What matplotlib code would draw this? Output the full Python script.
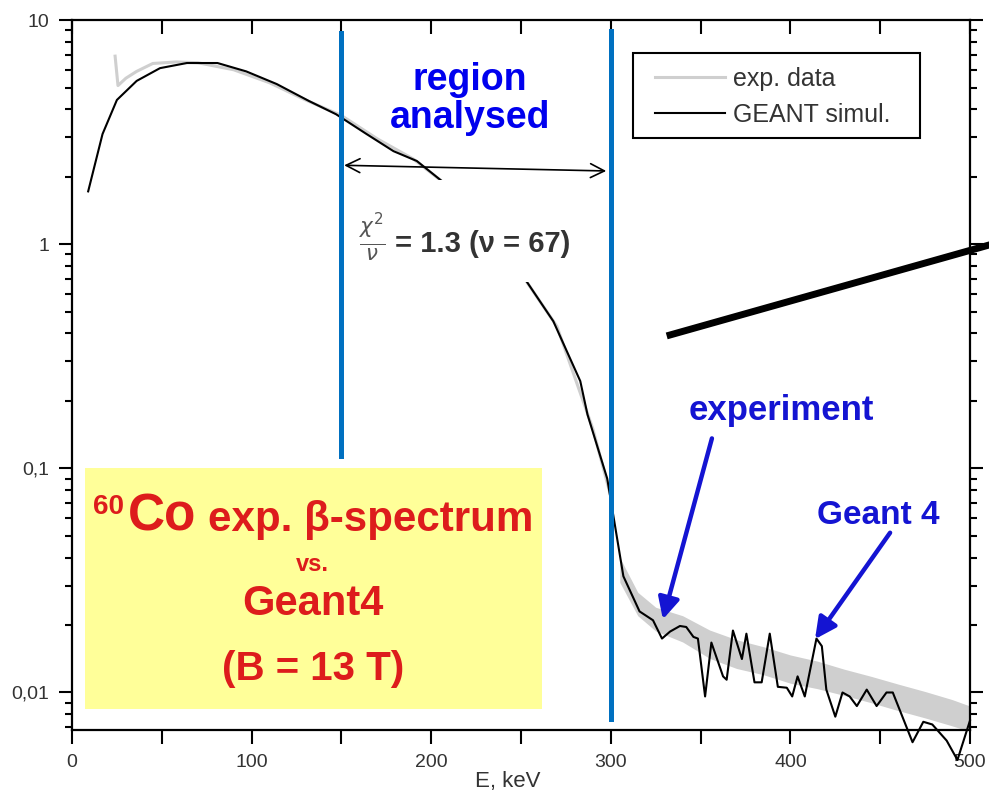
import matplotlib
matplotlib.use('Agg')
import matplotlib.pyplot as plt
from matplotlib.patches import Rectangle
from matplotlib.lines import Line2D
from matplotlib.ticker import FixedLocator, FixedFormatter, MultipleLocator, NullFormatter

plt.rcParams['font.family'] = ['Liberation Sans', 'DejaVu Sans']

# GEANT simulation (black line), E in keV
sim_e = [9, 17, 25, 36, 49, 64, 81, 97, 114, 132, 147, 164, 179, 192, 206, 220, 235,
         253, 268, 283, 287, 298, 307, 316, 323.5, 328.5, 333, 338.5, 342, 346, 348.5,
         352.5, 356, 362.5, 364.5, 368, 373, 375.5, 380, 384, 388.5, 393, 398, 401,
         404, 408, 414.5, 417.5, 420, 425, 429, 433, 437, 442.5, 448, 453.5, 457, 468,
         474, 479, 487, 493, 500]
sim_y = [1.72, 3.1, 4.4, 5.35, 6.1, 6.43, 6.43, 5.9, 5.18, 4.35, 3.8, 3.1, 2.6, 2.35,
         1.91, 1.5, 1.1, 0.684, 0.453, 0.245, 0.174, 0.090, 0.033, 0.023, 0.021, 0.0174,
         0.0187, 0.0198, 0.0196, 0.0177, 0.0174, 0.0096, 0.0167, 0.0118, 0.0114, 0.0189,
         0.0141, 0.0183, 0.0111, 0.0111, 0.0183, 0.0106, 0.0105, 0.0096, 0.0118, 0.0096,
         0.0174, 0.0161, 0.0103, 0.0078, 0.0100, 0.0096, 0.0087, 0.0103, 0.0087, 0.0100,
         0.0100, 0.0060, 0.0074, 0.0072, 0.0061, 0.0050, 0.0075]

# experimental data (grey), low-energy part
exp_e = [24, 25.6, 30, 36, 45, 58, 70, 90, 110, 130, 150, 170, 190, 210, 230, 250,
         270, 290, 300]
exp_y = [6.9, 5.1, 5.5, 5.9, 6.4, 6.5, 6.45, 6.0, 5.25, 4.4, 3.75, 2.95, 2.4, 1.8,
         1.25, 0.74, 0.43, 0.15, 0.075]

# experimental data tail: scatter band (lower / upper edge)
band_e = [305, 315, 325, 340, 355, 370, 385, 400, 415, 430, 445, 460, 475, 490, 500]
band_lo = [0.031, 0.022, 0.0188, 0.0168, 0.0142, 0.0128, 0.0120, 0.0110, 0.0104,
           0.0097, 0.0090, 0.0083, 0.0077, 0.0071, 0.0067]
band_hi = [0.040, 0.028, 0.0240, 0.0220, 0.0190, 0.0172, 0.0160, 0.0147, 0.0138,
           0.0127, 0.0118, 0.0109, 0.0101, 0.0093, 0.0087]

ytick_vals = [0.01, 0.1, 1, 10]
ytick_labels = ['0,01', '0,1', '1', '10']

fig = plt.figure(figsize=(9.89, 8.01), dpi=100)
ax = fig.add_axes([0.0728, 0.0886, 0.908, 0.8864])

grey = '#cfcfcf'
ax.fill_between(band_e, band_lo, band_hi, color=grey, lw=0)
ax.plot(exp_e, exp_y, color=grey, lw=2.2, label='exp. data')
ax.plot(sim_e, sim_y, color='black', lw=1.5, label='GEANT simul.', clip_on=False)

ax.set_yscale('log')
ax.set_xlim(0, 500)
ax.set_ylim(0.0068, 10)

ax.yaxis.set_major_locator(FixedLocator(ytick_vals))
ax.yaxis.set_major_formatter(FixedFormatter(ytick_labels))
ax.yaxis.set_minor_formatter(NullFormatter())
ax.xaxis.set_major_locator(MultipleLocator(100))
ax.xaxis.set_minor_locator(MultipleLocator(50))

for s in ax.spines.values():
    s.set_linewidth(1.6)
ax.tick_params(which='both', top=True, right=True, width=1.5, labelsize=14,
               labelcolor='#333333')
ax.tick_params(axis='y', which='major', direction='out', length=9.5, pad=7)
ax.tick_params(axis='y', which='minor', direction='out', length=5)
ax.tick_params(axis='x', which='both', direction='out', length=10, pad=7)
# top and right ticks point inward
for t in ax.xaxis.get_major_ticks() + ax.xaxis.get_minor_ticks():
    t.tick2line.set_marker(3)
for t in ax.yaxis.get_major_ticks() + ax.yaxis.get_minor_ticks():
    t.tick2line.set_marker(1)
ax.set_xlabel('E, keV', fontsize=16, color='#333333')
ax.xaxis.set_label_coords(0.485, -0.058)

# legend: entries without frame, box drawn separately
leg = ax.legend(loc='upper left', bbox_to_anchor=(0.649, 0.934), fontsize=18,
                frameon=False, handlelength=2.8, borderpad=0, labelspacing=0.48,
                handletextpad=0.32, borderaxespad=0)
for t in leg.get_texts():
    t.set_color('#333333')
ax.add_patch(Rectangle((0.6247, 0.8345), 0.3193, 0.119, transform=ax.transAxes,
                       facecolor='none', edgecolor='black', lw=1.5, zorder=6))

# region analysed lines
blue_line = '#0070c0'
ax.plot([150, 150], [0.113, 8.75], color=blue_line, lw=3.6, zorder=5)
ax.plot([300, 300], [0.0076, 8.9], color=blue_line, lw=3.6, zorder=5)
ax.annotate('', xy=(150, 2.25), xytext=(299, 2.12),
            arrowprops=dict(arrowstyle='<->', color='black', lw=1.2,
                            mutation_scale=25))
ax.text(221.5, 4.45, 'region\nanalysed', color='#0000ee', fontsize=27,
        fontweight='bold', ha='center', va='center', linespacing=1.05)

# white patch with chi2
ax.add_patch(Rectangle((0.304, 0.631), 0.267, 0.144, transform=ax.transAxes,
                       facecolor='white', edgecolor='none', zorder=4))
ax.text(167, 1.07, r'$\frac{\chi^2}{\nu}$', fontsize=22, color='#555555',
        ha='center', va='center', zorder=6)
ax.text(180, 1.0, '= 1.3 (ν = 67)', fontsize=21, fontweight='bold', color='#333333',
        ha='left', va='center', zorder=6)

# yellow label box
red = '#dd1c1c'
ax.add_patch(Rectangle((7.2, 0.0084), 254.5, 0.0916, facecolor='#ffff99',
                       edgecolor='none', zorder=3))
ax.text(11.7, 0.0628, '60', fontsize=20, fontweight='bold', color=red,
        va='baseline', ha='left', zorder=6)
ax.text(31.2, 0.0527, 'Co', fontsize=37, fontweight='bold', color=red,
        va='baseline', ha='left', zorder=6)
ax.text(75.7, 0.0527, 'exp. β-spectrum', fontsize=30.3, fontweight='bold', color=red,
        va='baseline', ha='left', zorder=6)
ax.text(134, 0.0349, 'vs.', fontsize=17, fontweight='bold', color=red,
        va='baseline', ha='center', zorder=6)
ax.text(134, 0.0222, 'Geant4', fontsize=30, fontweight='bold', color=red,
        va='baseline', ha='center', zorder=6)
ax.text(134, 0.0114, '(B = 13 T)', fontsize=29, fontweight='bold', color=red,
        va='baseline', ha='center', zorder=6)

# arrows to experiment / Geant 4
blue_txt = '#1414d2'
ax.text(395, 0.182, 'experiment', fontsize=25, fontweight='bold', color=blue_txt,
        ha='center', va='center', zorder=7)
ax.text(449, 0.0616, 'Geant 4', fontsize=24, fontweight='bold', color=blue_txt,
        ha='center', va='center', zorder=7)
arrow_kw = dict(arrowstyle='-|>', color=blue_txt, lw=3.2, mutation_scale=32,
                shrinkA=0, shrinkB=0)
ax.annotate('', xy=(329, 0.0212), xytext=(356.3, 0.136), arrowprops=arrow_kw,
            zorder=7)
ax.annotate('', xy=(413.7, 0.0173), xytext=(455.5, 0.0516), arrowprops=arrow_kw,
            zorder=7)

# thick black pointer line
fig.add_artist(Line2D([0.6775, 1.0], [0.5818, 0.6941], color='black', lw=5,
                      transform=fig.transFigure))

fig.savefig('out.png', dpi=100)
